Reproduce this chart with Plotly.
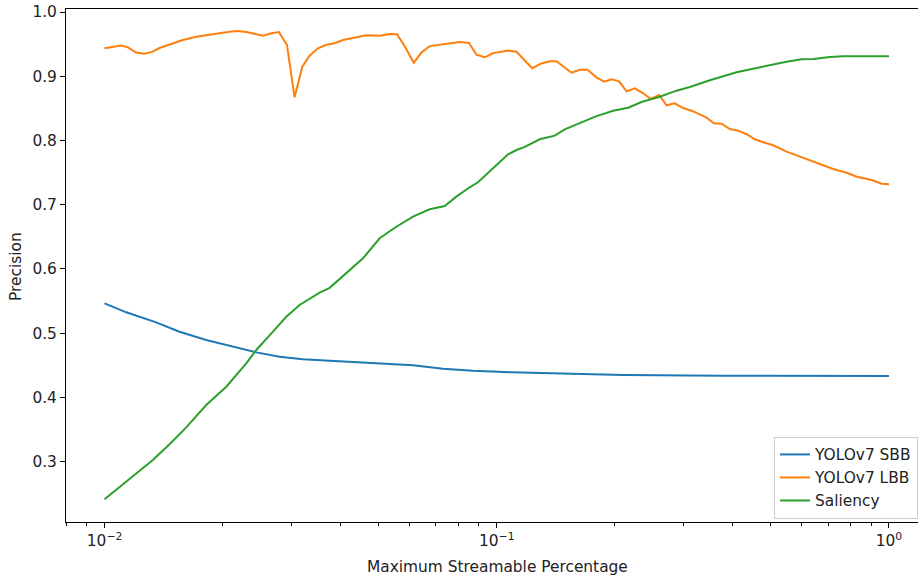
import plotly.graph_objects as go

# ---- data ----
sbb_x = [0.0100, 0.01136, 0.01354, 0.01553, 0.01817, 0.02084, 0.02438, 0.02795, 0.03205,
         0.03750, 0.04385, 0.05129, 0.06116, 0.07295, 0.08701, 0.1086, 0.1420, 0.2101,
         0.3778, 1.0]
sbb_y = [0.5464, 0.5324, 0.5168, 0.5022, 0.4893, 0.4800, 0.4700, 0.4632, 0.4592,
         0.4570, 0.4550, 0.4530, 0.4498, 0.4446, 0.4414, 0.4389, 0.4374, 0.4347,
         0.4336, 0.4332]

lbb_x = [0.0100, 0.01103, 0.01147, 0.01205, 0.01265, 0.01323, 0.01381, 0.01465, 0.01584,
         0.01713, 0.01817, 0.01927, 0.02084, 0.02188, 0.02298, 0.02533, 0.02663, 0.02783,
         0.02918, 0.03052, 0.03193, 0.03334, 0.03500, 0.03678, 0.03862, 0.04055, 0.04298,
         0.04651, 0.05029, 0.05333, 0.05567, 0.05824, 0.06142, 0.06425, 0.06746, 0.07295,
         0.08045, 0.08499, 0.08877, 0.09320, 0.09785, 0.1018, 0.1069, 0.1123, 0.1231,
         0.1300, 0.1365, 0.1420, 0.1551, 0.1628, 0.1703, 0.1796, 0.1878, 0.1962, 0.2051,
         0.2142, 0.2249, 0.2361, 0.2471, 0.2594, 0.2710, 0.2844, 0.2987, 0.3139, 0.3427,
         0.3578, 0.3743, 0.3929, 0.4126, 0.4335, 0.4551, 0.4781, 0.5068, 0.5483, 0.5988,
         0.6475, 0.7208, 0.7874, 0.8272, 0.9034, 0.9581, 1.0]
lbb_y = [0.9436, 0.9480, 0.9450, 0.9370, 0.9350, 0.9380, 0.9440, 0.9490, 0.9565,
         0.9617, 0.9643, 0.9670, 0.9695, 0.9706, 0.9690, 0.9633, 0.9670, 0.9690,
         0.9488, 0.8673, 0.9150, 0.9320, 0.9436, 0.9490, 0.9514, 0.9565, 0.9600,
         0.9639, 0.9633, 0.9660, 0.9654, 0.9470, 0.9210, 0.9370, 0.9470, 0.9500,
         0.9534, 0.9520, 0.9336, 0.9296, 0.9358, 0.9380, 0.9400, 0.9383, 0.9125,
         0.9200, 0.9234, 0.9234, 0.9056, 0.9100, 0.9103, 0.8984, 0.8916, 0.8953, 0.8922,
         0.8766, 0.8813, 0.8735, 0.8646, 0.8709, 0.8548, 0.8579, 0.8506, 0.8464, 0.8355,
         0.8268, 0.8262, 0.8179, 0.8153, 0.8097, 0.8019, 0.7972, 0.7925, 0.7826, 0.7738,
         0.7670, 0.7556, 0.7490, 0.7436, 0.7385, 0.7327, 0.7318]

sal_x = [0.0100, 0.01071, 0.01181, 0.01328, 0.01465, 0.01609, 0.01817, 0.02044, 0.02298,
         0.02438, 0.02663, 0.02907, 0.03143, 0.03535, 0.03750, 0.04136, 0.04560, 0.05029,
         0.05547, 0.06116, 0.06746, 0.07368, 0.07889, 0.08531, 0.08958, 0.09785, 0.1069,
         0.1123, 0.1179, 0.1287, 0.1406, 0.1491, 0.1565, 0.1796, 0.1980, 0.2163, 0.2339,
         0.2604, 0.2873, 0.3107, 0.3495, 0.3778, 0.4088, 0.4505, 0.5068, 0.5483, 0.5988,
         0.6411, 0.7071, 0.7645, 0.8600, 1.0]
sal_y = [0.2411, 0.2556, 0.2774, 0.3023, 0.3270, 0.3520, 0.3880, 0.4165, 0.4530,
         0.4737, 0.4997, 0.5255, 0.5438, 0.5630, 0.5705, 0.5931, 0.6165, 0.6477,
         0.6657, 0.6813, 0.6928, 0.6980, 0.7125, 0.7271, 0.7349, 0.7567, 0.7785,
         0.7852, 0.7900, 0.8019, 0.8075, 0.8174, 0.8226, 0.8380, 0.8464, 0.8510, 0.8600,
         0.8682, 0.8776, 0.8833, 0.8938, 0.8994, 0.9062, 0.9118, 0.9187, 0.9228, 0.9265,
         0.9270, 0.9300, 0.9312, 0.9312, 0.9312]

series_names = ["YOLOv7 SBB", "YOLOv7 LBB", "Saliency"]
series_colors = ["#1f77b4", "#ff7f0e", "#2ca02c"]

x_major_vals = [0.01, 0.1, 1.0]
x_major_text = ["10<sup>−2</sup>", "10<sup>−1</sup>", "10<sup>0</sup>"]
x_minor_vals = [m * 10.0 ** e for e in (-3, -2, -1, 0) for m in range(2, 10)]
y_tick_vals = [0.3, 0.4, 0.5, 0.6, 0.7, 0.8, 0.9, 1.0]
y_tick_text = ["0.3", "0.4", "0.5", "0.6", "0.7", "0.8", "0.9", "1.0"]

xrange_log = [-2.0982, 0.074]
yrange = [0.2058, 1.0048]

FONT = "DejaVu Sans"
FS = 15.4

fig = go.Figure()
for xs, ys, name, col in zip([sbb_x, lbb_x, sal_x], [sbb_y, lbb_y, sal_y],
                             series_names, series_colors):
    fig.add_trace(go.Scatter(x=xs, y=ys, mode="lines", name=name,
                             line=dict(color=col, width=2)))

# invisible trace to carry the minor-tick axis
fig.add_trace(go.Scatter(x=[0.01], y=[0.5], xaxis="x2", mode="markers",
                         marker=dict(opacity=0), showlegend=False, hoverinfo="skip"))

fig.update_layout(
    width=918, height=578,
    margin=dict(l=66, r=0, t=9, b=56),
    paper_bgcolor="white", plot_bgcolor="white",
    font=dict(family=FONT, size=FS, color="black"),
    showlegend=True,
    legend=dict(x=1.0, y=0.006, xanchor="right", yanchor="bottom",
                bgcolor="rgba(255,255,255,0.8)", bordercolor="#cccccc", borderwidth=1,
                font=dict(family=FONT, size=FS, color="#222222"),
                itemwidth=30, tracegroupgap=0),
    xaxis=dict(type="log", range=xrange_log, tickvals=x_major_vals, ticktext=x_major_text,
               ticks="outside", ticklen=5, tickwidth=1, tickcolor="black",
               showline=True, linecolor="black", linewidth=1, mirror=True,
               showgrid=False, zeroline=False, tickfont=dict(size=FS, color="#222222")),
    xaxis2=dict(type="log", range=xrange_log, overlaying="x", side="bottom",
                tickvals=x_minor_vals, showticklabels=False,
                ticks="outside", ticklen=3, tickwidth=1, tickcolor="black",
                showline=False, showgrid=False, zeroline=False),
    yaxis=dict(range=yrange, tickvals=y_tick_vals, ticktext=y_tick_text,
               ticks="outside", ticklen=5, tickwidth=1, tickcolor="black",
               showline=True, linecolor="black", linewidth=1, mirror=False,
               showgrid=False, zeroline=False, tickfont=dict(size=FS, color="#222222")),
    annotations=[
        dict(text="Maximum Streamable Percentage", xref="paper", yref="paper",
             x=(497 - 66) / (918 - 66), y=-(567 - 522) / (522 - 9), showarrow=False,
             xanchor="center", yanchor="middle", font=dict(family=FONT, size=FS, color="#222222")),
        dict(text="Precision", xref="paper", yref="paper",
             x=-(66 - 16) / (918 - 66), y=(522 - 267) / (522 - 9), showarrow=False,
             textangle=-90, xanchor="center", yanchor="middle",
             font=dict(family=FONT, size=FS, color="#222222")),
    ],
)

fig.write_html("out.html")
